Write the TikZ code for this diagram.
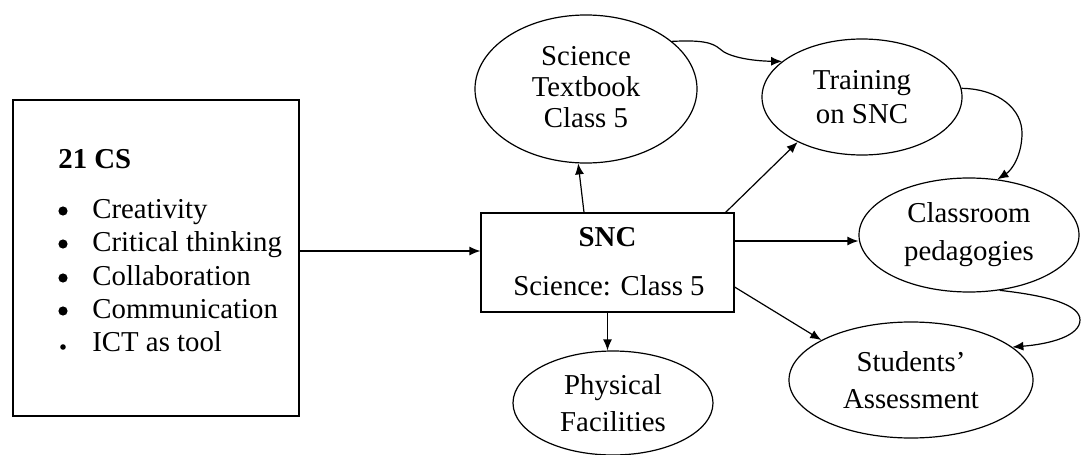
\documentclass[tikz,border=0pt]{standalone}
\usepackage{fontspec}
\setmainfont{Liberation Serif}
\usetikzlibrary{shapes.geometric,arrows.meta}
\begin{document}
\begin{tikzpicture}[x=0.5pt,y=-0.5pt,
  every node/.style={font=\fontsize{14.4}{17}\selectfont, text=black},
  arr/.style={line width=0.6pt, draw=black, -{Latex[length=5.5pt,width=4.5pt]}},
  oval/.style={ellipse, draw=black, line width=0.6pt, inner sep=0pt, align=center},
  boxnode/.style={rectangle, draw=black, line width=0.6pt, inner sep=0pt},
  btext/.style={anchor=base west, inner sep=0pt},
  bul/.style={circle, fill=black, inner sep=0pt, minimum size=4.6pt},
  sbul/.style={circle, fill=black, inner sep=0pt, minimum size=2.8pt}]
\useasboundingbox (0,0) rectangle (1083,455);

% left box
\node[boxnode, minimum width=143pt, minimum height=158pt] (cs) at (156,258) {};
\node[btext] (cstitle) at (58,168) {\textbf{21 CS}};
\node[bul] (b1) at (63,211) {};
\node[btext] (t1) at (92,218) {Creativity};
\node[bul] (b2) at (63,244) {};
\node[btext] (t2) at (92,251) {Critical thinking};
\node[bul] (b3) at (63,278) {};
\node[btext] (t3) at (92,285) {Collaboration};
\node[bul] (b4) at (63,311) {};
\node[btext] (t4) at (92,318) {Communication};
\node[sbul] (b5) at (63,347) {};
\node[btext] (t5) at (92,351) {ICT as tool};

% SNC box
\node[boxnode, minimum width=126.5pt, minimum height=49.5pt] (snc) at (607.5,262.5) {};
\node[anchor=base, inner sep=0pt] (snct) at (607.5,246) {\textbf{SNC}};
\node[anchor=base, inner sep=0pt] (sncs) at (609,295) {Science: Class 5};

% ellipses
\node[oval, minimum width=111pt, minimum height=74pt, font=\fontsize{14.4}{15.5}\selectfont] (tb) at (586,89) {Science\\Textbook\\Class 5\rule[-2pt]{0pt}{2pt}};
\node[oval, minimum width=100pt, minimum height=58pt] (tr) at (862,97) {Training\\on SNC};
\node[oval, minimum width=110pt, minimum height=57pt, font=\fontsize{14.4}{19}\selectfont] (cp) at (969,235) {Classroom\\pedagogies};
\node[oval, minimum width=122pt, minimum height=58pt, font=\fontsize{14.4}{18.5}\selectfont] (sa) at (911,380) {Students’\\Assessment};
\node[oval, minimum width=100pt, minimum height=52pt, font=\fontsize{14.4}{18.5}\selectfont] (pf) at (613,403) {Physical\\Facilities};

% straight connectors
\coordinate (ya) at ([yshift=5.75pt]snc.west);
\draw[arr] (ya -| cs.east) -- (ya);
\draw[arr] ([xshift=-11.75pt]snc.north) -- (tb.264);
\draw[arr] (snc.south) -- (snc.south |- pf.north);
\draw[arr] ([xshift=-4.5pt]snc.north east) -- (tr.215);
\coordinate (yb) at ([yshift=10.75pt]snc.east);
\draw[arr] (yb) -- (yb -| cp.west);
\draw[arr] ([yshift=-12.25pt]snc.east) -- (sa.156);

% curved connectors
\draw[arr] (tb.29) .. controls (700,40) and (712,42) .. (720,49) .. controls (728,57) and (752,61) .. (tr.156);
\draw[arr] (tr.5) .. controls (1000,89) and (1022,110) .. (1022,133) .. controls (1022,155) and (1012,170) .. (cp.63);
\draw[arr] (cp.299) .. controls (1050,296) and (1080,305) .. (1080,320) .. controls (1080,336) and (1050,344) .. (sa.18);
\end{tikzpicture}
\end{document}
